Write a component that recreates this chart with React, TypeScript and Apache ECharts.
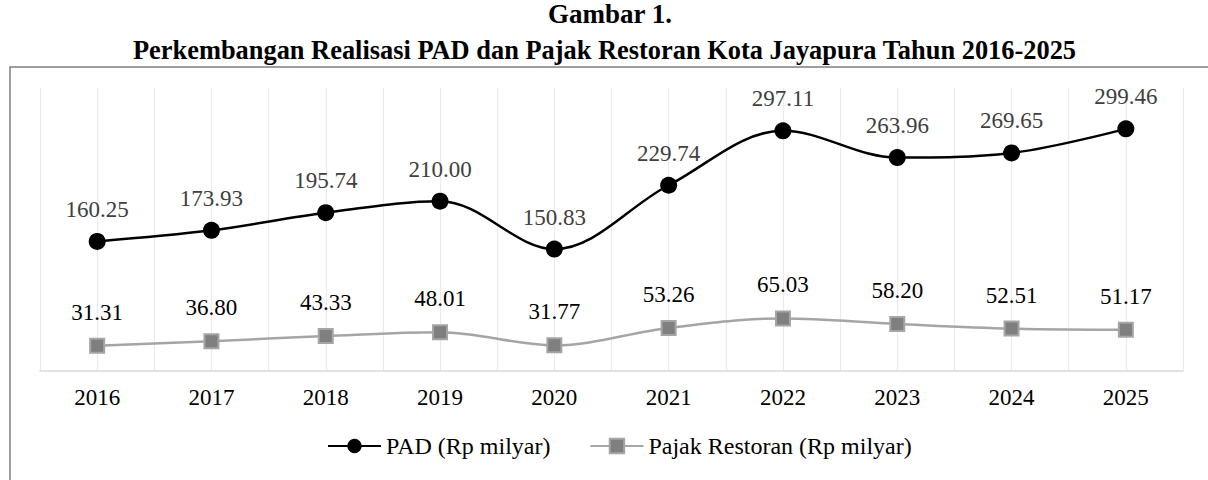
import React, { useEffect, useRef } from "react";
import * as echarts from "echarts";

const years = ["2016", "2017", "2018", "2019", "2020", "2021", "2022", "2023", "2024", "2025"];
const pad = [160.25, 173.93, 195.74, 210.0, 150.83, 229.74, 297.11, 263.96, 269.65, 299.46];
const pajak = [31.31, 36.8, 43.33, 48.01, 31.77, 53.26, 65.03, 58.2, 52.51, 51.17];
const titleLine1 = "Gambar 1.";
const titleLine2 = "Perkembangan Realisasi PAD dan Pajak Restoran Kota Jayapura Tahun 2016-2025";
const padName = "PAD (Rp milyar)";
const pajakName = "Pajak Restoran (Rp milyar)";

const FONT = "Times New Roman";

export default function App() {
  const ref = useRef<HTMLDivElement>(null);
  useEffect(() => {
    if (!ref.current) return;
    const chart = echarts.init(ref.current, undefined, { renderer: "svg" });
    chart.setOption({
      animation: false,
      backgroundColor: "#ffffff",
      textStyle: { fontFamily: FONT, fontWeight: "normal", fontStyle: "normal" },
      graphic: [
        {
          type: "rect",
          shape: { x: 10, y: 67, width: 1210, height: 420 },
          style: { fill: "none", stroke: "#7f7f7f", lineWidth: 1.5 },
          z: -1,
        },
        {
          type: "text",
          x: 610,
          y: 14,
          style: { text: titleLine1, fontFamily: FONT, fontWeight: "bold", fontSize: 27, fill: "#000", align: "center", verticalAlign: "middle" },
        },
        {
          type: "text",
          x: 604.5,
          y: 50,
          style: { text: titleLine2, fontFamily: FONT, fontWeight: "bold", fontSize: 26.4, fill: "#000", align: "center", verticalAlign: "middle" },
        },
      ],
      grid: { left: 40, right: 25, top: 88, bottom: 109 },
      legend: {
        top: 429,
        left: 322,
        itemWidth: 53,
        itemHeight: 18,
        itemGap: 39,
        textStyle: { fontFamily: FONT, fontWeight: "normal", fontSize: 24, color: "#000" },
        data: [padName, pajakName],
      },
      xAxis: [
        {
          type: "category",
          data: years,
          boundaryGap: true,
          axisLine: { lineStyle: { color: "#d9d9d9", width: 1.5 } },
          axisTick: { show: false },
          axisLabel: { fontFamily: FONT, fontWeight: "normal", fontSize: 23, color: "#000", margin: 15 },
          splitLine: { show: false },
        },
        {
          type: "value",
          min: 0,
          max: 20,
          interval: 1,
          show: true,
          position: "bottom",
          axisLine: { show: false },
          axisTick: { show: false },
          axisLabel: { show: false },
          splitLine: { show: true, lineStyle: { color: "#ebebeb", width: 1.2 } },
        },
      ],
      yAxis: {
        type: "value",
        min: 0,
        max: 350,
        interval: 50,
        axisLine: { show: false },
        axisTick: { show: false },
        axisLabel: { show: false },
        splitLine: { show: false },
      },
      series: [
        {
          name: padName,
          type: "line",
          data: pad,
          smooth: 0.35,
          symbol: "circle",
          symbolSize: 17,
          lineStyle: { color: "#000", width: 2.5 },
          itemStyle: { color: "#000" },
          label: {
            show: true,
            position: "top",
            distance: 12,
            fontFamily: FONT,
            fontWeight: "normal",
            fontSize: 23,
            color: "#404040",
            formatter: (p: any) => p.value.toFixed(2),
          },
          z: 3,
        },
        {
          name: pajakName,
          type: "line",
          data: pajak,
          smooth: 0.35,
          symbol: "rect",
          symbolSize: 14,
          lineStyle: { color: "#a5a5a5", width: 2.5 },
          itemStyle: { color: "#7f7f7f", borderColor: "#a5a5a5", borderWidth: 2 },
          label: {
            show: true,
            position: "top",
            distance: 14,
            fontFamily: FONT,
            fontWeight: "normal",
            fontSize: 23,
            color: "#000",
            formatter: (p: any) => p.value.toFixed(2),
          },
          z: 3,
        },
      ],
    });
    return () => chart.dispose();
  }, []);
  return (
    <div
      ref={ref}
      style={{ position: "absolute", left: 0, top: 0, width: 1208, height: 480 }}
    />
  );
}
